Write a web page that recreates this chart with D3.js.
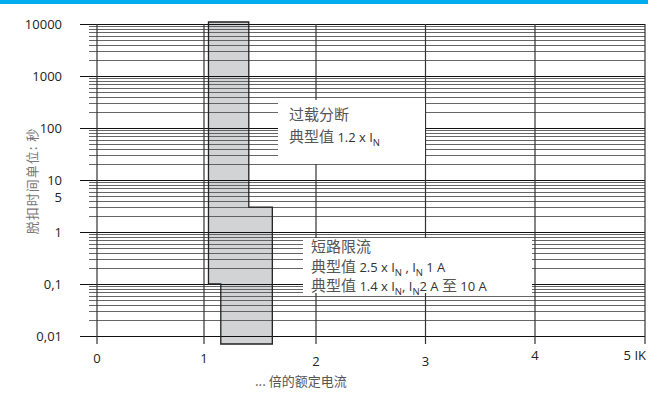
<!DOCTYPE html>
<html>
<head>
<meta charset="utf-8">
<script src="https://cdn.jsdelivr.net/npm/d3@7"></script>
<style>
  html, body { margin: 0; padding: 0; background: #fff; }
  svg { display: block; }
</style>
</head>
<body>
<script>
// tick values and their printed labels
const yTickValues = [10000, 1000, 100, 10, 5, 1, 0.1, 0.01];
const yTickLabels = ["10000", "1000", "100", "10", "5", "1", "0,1", "0,01"];
const xTickValues = [0, 1, 2, 3, 4, 5];
const xTickLabels = ["0", "1", "2", "3", "4", "5 IK"];

// tripping band outline (multiple of rated current, seconds)
const bandX = [1.04, 1.40, 1.40, 1.61, 1.61, 1.15, 1.15, 1.04];
const bandY = [10000, 10000, 3, 3, 0.01, 0.01, 0.1, 0.1];

const width = 648;
const height = 394;

const svg = d3.select("body").append("svg")
    .attr("width", width)
    .attr("height", height);

// top blue strip
svg.append("rect")
    .attr("x", 0).attr("y", 0)
    .attr("width", width).attr("height", 4)
    .attr("fill", "#00aeef");

const xScale = d3.scaleLinear()
    .domain([0, 1, 2, 3, 4, 5])
    .range([97, 204, 316, 425.5, 535, 645]);

const yScale = d3.scaleLog()
    .domain([0.01, 10000])
    .range([336, 24]);

const bottom = yScale(0.01);
const tickLen = 8;

// shaded band (drawn below the grid)
const bandPts = bandX.map((x, i) => {
    let y = yScale(bandY[i]);
    if (bandY[i] === 0.01) y += tickLen;
    if (bandY[i] === 10000) y -= 2;
    return [xScale(x), y];
});
svg.append("path")
    .attr("d", d3.line()(bandPts) + "Z")
    .attr("fill", "#d1d3d4")
    .attr("stroke", "none");

// horizontal grid: every 1..9 multiple per decade
const gridVals = yScale.ticks();
const isDecade = v => Math.abs(Math.log10(v) - Math.round(Math.log10(v))) < 1e-9;
svg.append("g").selectAll("line")
    .data(gridVals)
    .enter().append("line")
    .attr("x1", d => isDecade(d) ? 80 : 89)
    .attr("x2", xScale(5))
    .attr("y1", d => Math.round(yScale(d)) + 0.5)
    .attr("y2", d => Math.round(yScale(d)) + 0.5)
    .attr("stroke", d => isDecade(d) ? "#111" : "#555")
    .attr("stroke-width", d => isDecade(d) ? 1.2 : 0.9);

// vertical grid lines
svg.append("g").selectAll("line")
    .data(xTickValues)
    .enter().append("line")
    .attr("x1", d => xScale(d))
    .attr("x2", d => xScale(d))
    .attr("y1", yScale(10000))
    .attr("y2", bottom + tickLen)
    .attr("stroke", "#333")
    .attr("stroke-width", 1.2);

// band outline on top of the grid
svg.append("path")
    .attr("d", d3.line()(bandPts) + "Z")
    .attr("fill", "none")
    .attr("stroke", "#222")
    .attr("stroke-width", 1.3);

// white label boxes
svg.append("rect")
    .attr("x", 278).attr("y", 100)
    .attr("width", xScale(3) - 278 - 0.5).attr("height", 64)
    .attr("fill", "#fff");
svg.append("rect")
    .attr("x", 303).attr("y", 238)
    .attr("width", 229).attr("height", 55)
    .attr("fill", "#fff");

const numFont = "'Open Sans', 'Noto Sans', sans-serif";
const cjkFont = "'Noto Sans CJK SC', sans-serif";

// y tick labels
svg.append("g").selectAll("text")
    .data(yTickValues)
    .enter().append("text")
    .attr("x", 62)
    .attr("y", d => yScale(d) + (d === 5 ? 2 : 0))
    .attr("dy", "0.35em")
    .attr("text-anchor", "end")
    .style("font-family", numFont)
    .style("font-size", "13px")
    .attr("fill", "#222")
    .text((d, i) => yTickLabels[i]);

// x tick labels
svg.append("g").selectAll("text")
    .data(xTickValues)
    .enter().append("text")
    .attr("x", d => d === 5 ? xScale(d) + 1 : xScale(d))
    .attr("y", d => d === 2 || d === 3 ? 361 : (d >= 4 ? 355 : 358))
    .attr("dy", "0.35em")
    .attr("text-anchor", d => d === 5 ? "end" : "middle")
    .style("font-family", numFont)
    .style("font-size", "13px")
    .attr("fill", "#222")
    .text((d, i) => xTickLabels[i]);

// axis titles
svg.append("text")
    .attr("x", 255)
    .attr("y", 381)
    .attr("dy", "0.35em")
    .style("font-family", cjkFont)
    .style("font-size", "13px")
    .attr("fill", "#555")
    .text("... 倍的额定电流");

svg.append("text")
    .attr("transform", "translate(32, 181) rotate(-90)")
    .attr("text-anchor", "middle")
    .attr("dy", "0.35em")
    .style("font-family", cjkFont)
    .style("font-size", "13px")
    .style("letter-spacing", "1px")
    .attr("fill", "#777")
    .text("脱扣时间单位: 秒");

// annotation text with subscripts
function richLine(x, y, parts) {
    const t = svg.append("text")
        .attr("x", x).attr("y", y)
        .attr("dy", "0.35em");
    parts.forEach(p => {
        const s = t.append("tspan").text(p.t);
        if (p.cjk) {
            s.style("font-family", cjkFont).style("font-size", "15px").attr("fill", "#555");
        } else if (p.sub) {
            s.style("font-family", numFont).style("font-size", "9.5px").attr("fill", "#333")
                .attr("dy", 4);
        } else {
            s.style("font-family", numFont).style("font-size", "13px").attr("fill", "#333");
            if (p.up) s.attr("dy", -4);
        }
    });
}

richLine(289, 114, [{ t: "过载分断", cjk: true }]);
richLine(289, 136, [
    { t: "典型值 ", cjk: true },
    { t: "1.2 x  I" },
    { t: "N", sub: true }
]);

richLine(311, 246, [{ t: "短路限流", cjk: true }]);
richLine(311, 266, [
    { t: "典型值 ", cjk: true },
    { t: "2.5 x I" },
    { t: "N", sub: true },
    { t: " ,  I", up: true },
    { t: "N", sub: true },
    { t: " 1 A", up: true }
]);
richLine(311, 285, [
    { t: "典型值 ", cjk: true },
    { t: "1.4 x  I" },
    { t: "N", sub: true },
    { t: ", I", up: true },
    { t: "N", sub: true },
    { t: "2 A ", up: true },
    { t: "至", cjk: true },
    { t: " 10 A" }
]);
</script>
</body>
</html>
